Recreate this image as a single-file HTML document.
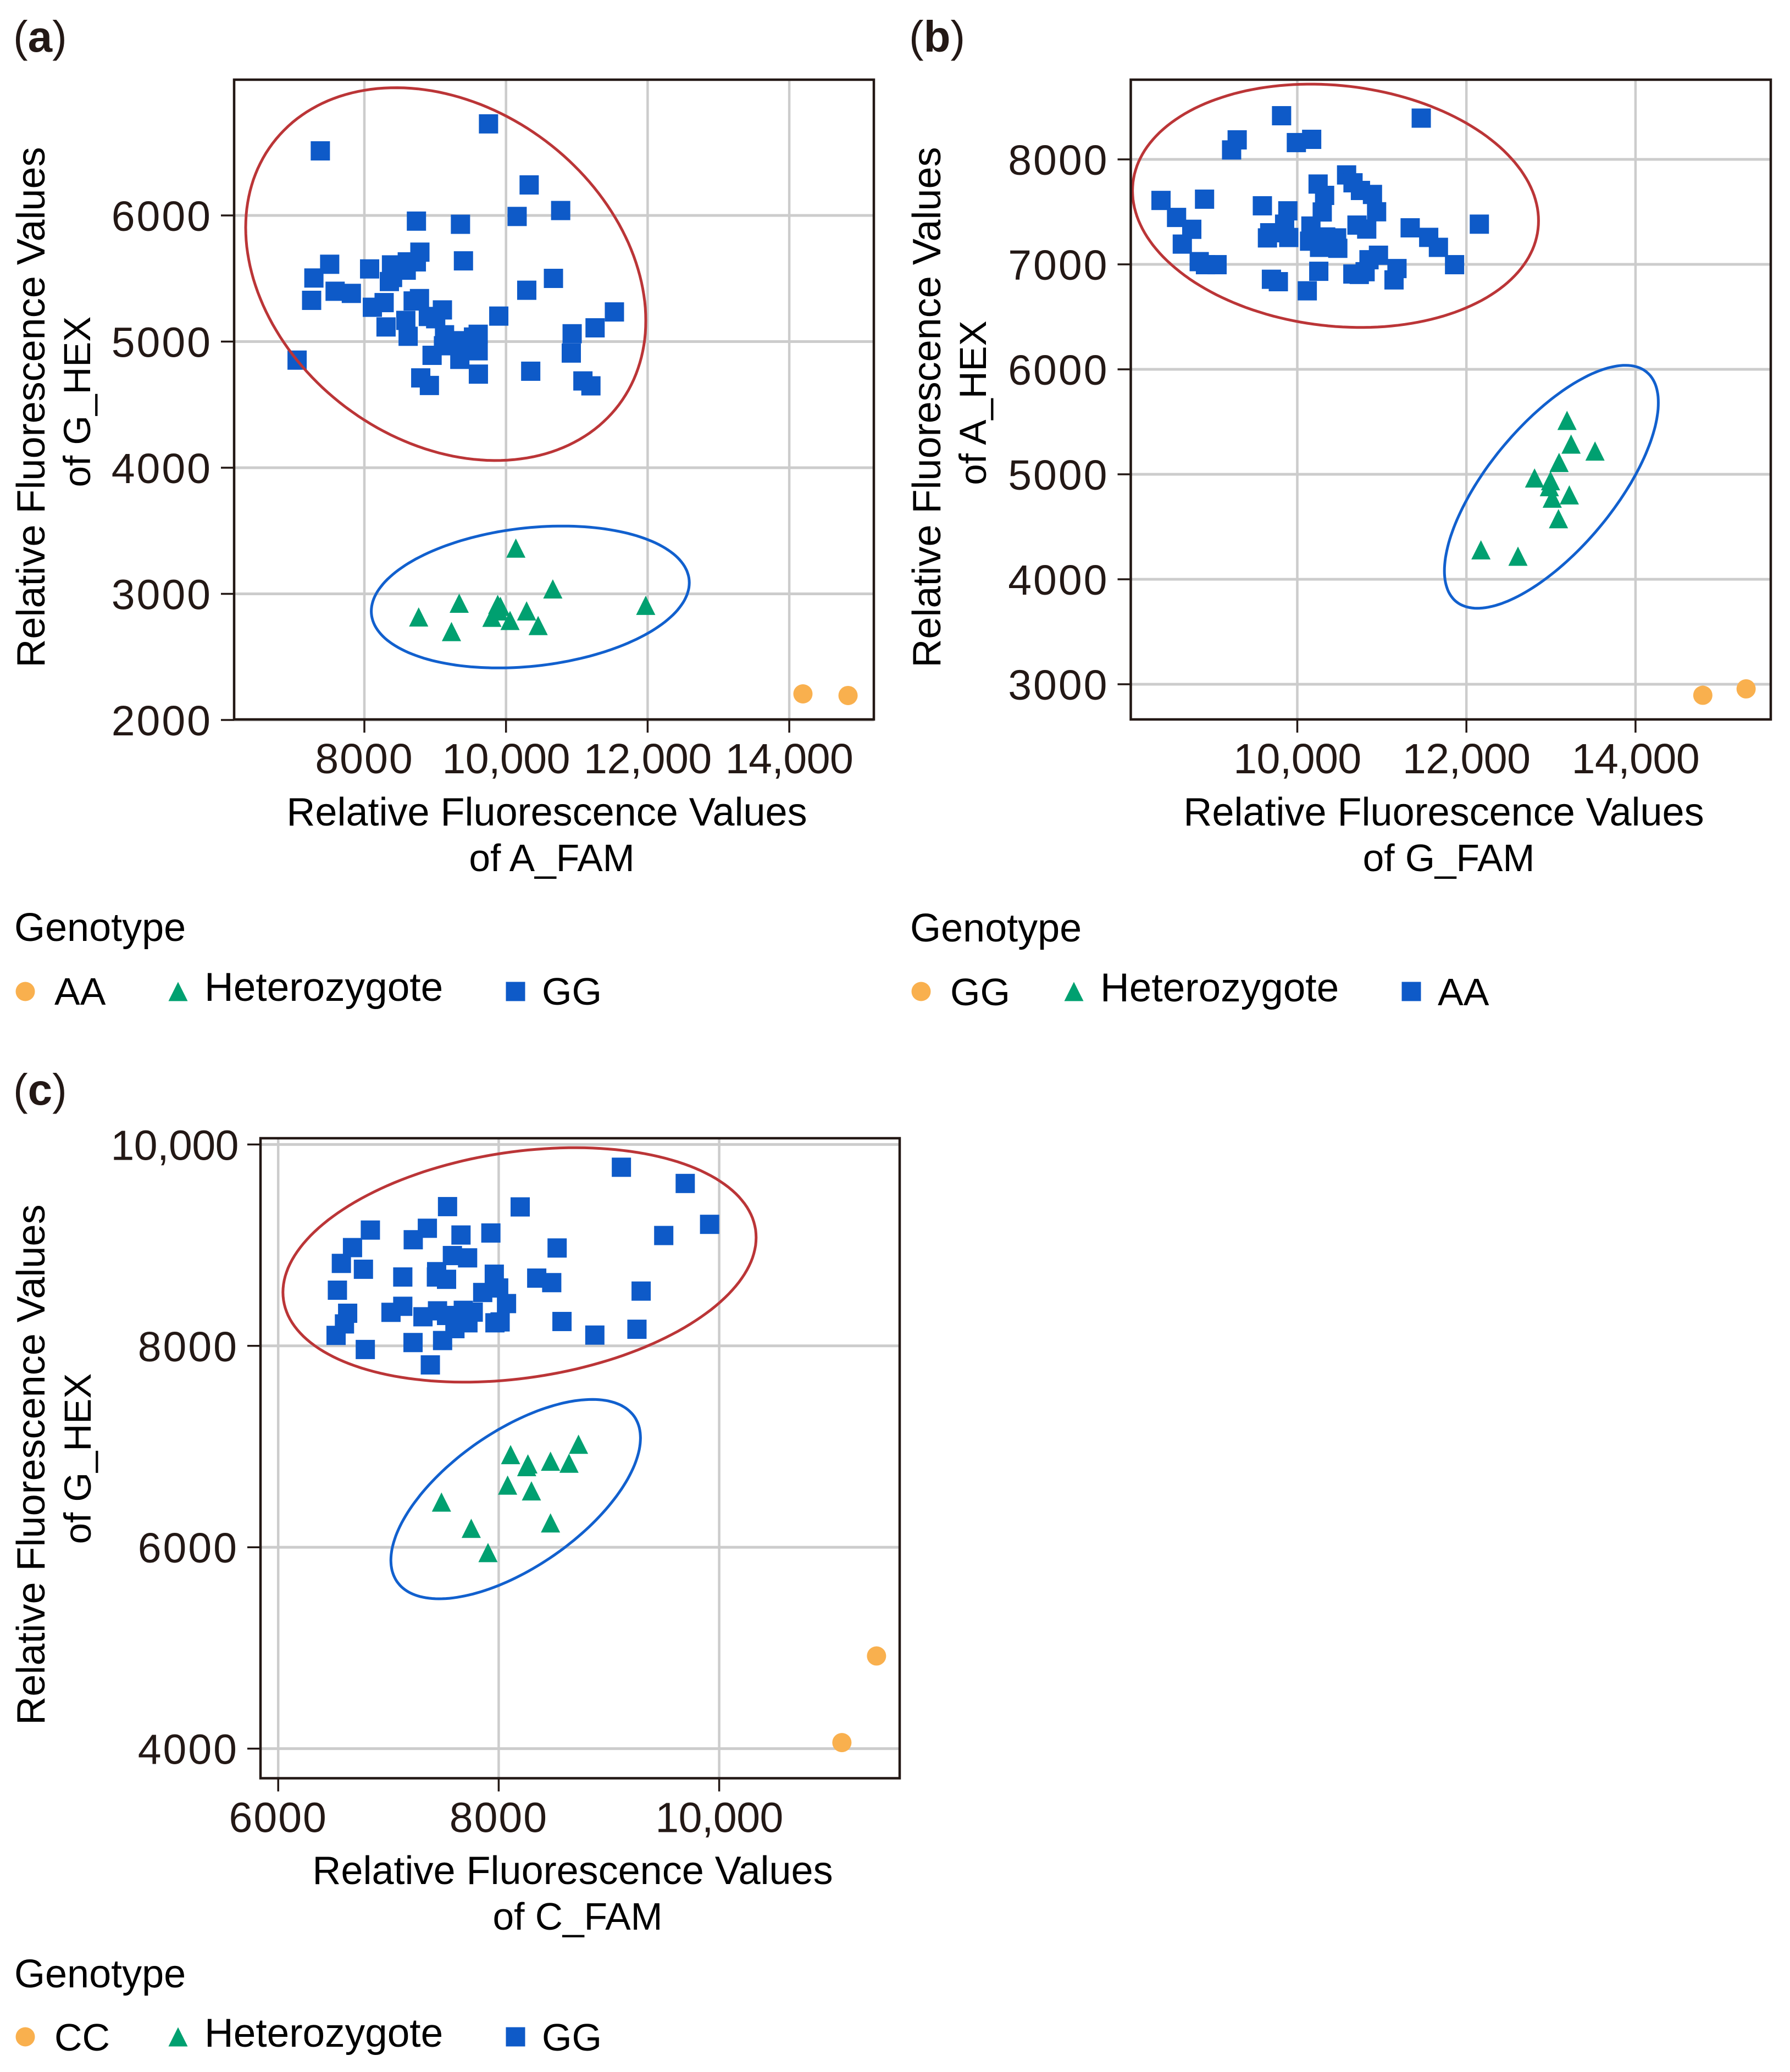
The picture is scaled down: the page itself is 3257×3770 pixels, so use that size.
<!DOCTYPE html>
<html lang="en">
<head>
<meta charset="utf-8">
<title>Genotype clustering scatter plots</title>
<style>
html,body{margin:0;padding:0;background:#fff;}
svg{display:block;}
text{font-family:"Liberation Sans",sans-serif;}
</style>
</head>
<body>
<svg id="figure" xmlns="http://www.w3.org/2000/svg" width="3257" height="3770" viewBox="0 0 3257 3770"></svg>
<script>
// ---- Panel (a) data ----
const aXTicks = [8000, 10000, 12000, 14000];
const aYTicks = [2000, 3000, 4000, 5000, 6000];
const aCircleX = [14193, 14830];
const aCircleY = [2207, 2194];
const aTriX = [10139, 10661, 9339, 8767, 9230, 9883, 9921, 9801, 9894, 10057, 10291, 10454, 11973];
const aTriY = [3363, 3039, 2926, 2817, 2701, 2916, 2901, 2814, 2865, 2789, 2865, 2749, 2909];
const aSquareX = [7510, 7287, 7255, 7587, 7816, 8074, 8383, 8606, 8784, 8734, 8591, 8398, 8353, 9399, 8113, 8279, 8689, 8778, 8903, 9007, 9102, 9898, 8585, 8618, 8306, 9132, 9117, 8956, 9348, 9348, 9541, 9607, 9607, 9610, 10349, 8796, 8918, 11086, 11199, 7050, 10293, 10670, 10934, 10922, 11258, 11531, 9753, 7378, 10327, 10772, 10157, 8735, 9357];
const aSquareY = [5613, 5504, 5327, 5399, 5382, 5576, 5608, 5632, 5709, 5632, 5566, 5508, 5476, 5640, 5272, 5309, 5322, 5341, 5199, 5181, 5251, 5202, 5168, 5042, 5116, 5054, 4967, 4891, 5007, 4859, 5036, 5058, 4927, 4742, 4765, 4712, 4652, 4688, 4649, 4853, 5407, 5501, 5062, 4909, 5109, 5235, 6726, 6512, 6242, 6039, 5992, 5955, 5930];
const aRedEllipse = [9149, 5535, 2825, -369, 1431];
const aBlueEllipse = [10343, 2975, 2245, 113, 551];

// ---- Panel (b) data ----
const bXTicks = [10000, 12000, 14000];
const bYTicks = [3000, 4000, 5000, 6000, 7000, 8000];
const bCircleX = [14796, 15308];
const bCircleY = [2895, 2956];
const bTriX = [13190, 13238, 13521, 13096, 12806, 12995, 12981, 13217, 13015, 13089, 12172, 12610];
const bTriY = [5514, 5288, 5222, 5113, 4965, 4939, 4882, 4804, 4773, 4577, 4281, 4220];
const bSquareX = [9814, 11466, 9289, 9223, 9989, 10170, 8388, 8903, 8572, 8752, 8640, 8840, 8914, 9051, 9587, 9888, 9850, 9674, 9647, 9899, 10161, 10246, 10323, 10295, 10583, 10659, 10747, 10889, 10938, 10706, 10821, 11335, 11554, 11669, 11860, 12153, 10145, 10263, 10336, 10465, 10479, 10848, 10960, 11179, 10657, 10733, 10802, 11144, 10254, 10118, 9694, 9776];
const bSquareY = [8416, 8393, 8186, 8090, 8160, 8191, 7609, 7621, 7447, 7334, 7193, 7026, 6997, 6997, 7558, 7510, 7383, 7301, 7252, 7256, 7365, 7765, 7657, 7499, 7852, 7777, 7704, 7666, 7501, 7374, 7336, 7348, 7257, 7162, 6997, 7383, 7221, 7162, 7261, 7252, 7153, 7044, 7087, 6960, 6908, 6904, 6930, 6852, 6934, 6748, 6858, 6835];
const bRedEllipse = [10452, 7558, 2401, -143, 1150];
const bBlueEllipse = [13005, 4881, 1265, 801, 835];

// ---- Panel (c) data ----
const cXTicks = [6000, 8000, 10000];
const cYTicks = [4000, 6000, 8000, 10000];
const cCircleX = [11427, 11113];
const cCircleY = [4920, 4060];
const cTriX = [8724, 8108, 8265, 8254, 8470, 8638, 8081, 8297, 7481, 8470, 7751, 7903];
const cTriY = [7023, 6920, 6828, 6801, 6855, 6835, 6617, 6560, 6449, 6242, 6188, 5947];
const cSquareX = [7536, 8195, 6836, 7353, 7225, 7658, 7929, 6674, 6573, 6773, 8530, 7580, 7718, 7130, 7437, 7435, 7527, 7960, 8000, 7855, 8345, 8481, 6537, 6630, 6601, 6525, 6790, 7130, 7023, 7313, 7445, 7527, 7679, 7769, 7721, 7603, 8071, 7966, 8013, 8574, 8872, 7223, 7491, 7380, 9113, 9692, 9913, 9497, 9292, 9254];
const cSquareY = [9383, 9380, 9150, 9168, 9054, 9101, 9121, 8976, 8819, 8761, 8972, 8897, 8874, 8684, 8737, 8684, 8661, 8712, 8575, 8530, 8673, 8628, 8553, 8324, 8218, 8104, 7964, 8393, 8333, 8289, 8348, 8302, 8353, 8335, 8229, 8171, 8420, 8229, 8238, 8242, 8107, 8033, 8053, 7811, 9774, 9613, 9207, 9096, 8544, 8165];
const cRedEllipse = [8189, 8804, 2146, 272, 1132];
const cBlueEllipse = [8154, 6478, 1132, 607, 782];

// ---- Shared styles ----
const SVGNS = 'http://www.w3.org/2000/svg';
const INK = '#231815';
const GRID = '#cccccc';
const ORANGE = '#f9b04e';
const GREEN = '#00a070';
const BLUE = '#0e5ac8';
const RED_RING = '#bb3537';
const BLUE_RING = '#1160ce';
const MARK = 35;
const root = document.getElementById('figure');

function make(parent, tag, attrs, content) {
  const node = document.createElementNS(SVGNS, tag);
  for (const k in attrs) node.setAttribute(k, attrs[k]);
  if (content !== undefined) node.textContent = content;
  parent.appendChild(node);
  return node;
}
function fmt(v) {
  return v >= 10000 ? String(v).replace(/(\d)(\d{3})$/, '$1,$2') : String(v);
}
function circleMark(parent, cx, cy) {
  return make(parent, 'circle', {cx: cx, cy: cy, r: MARK / 2, fill: ORANGE});
}
function triMark(parent, cx, cy) {
  const h = MARK / 2;
  return make(parent, 'polygon', {points: (cx) + ',' + (cy - h) + ' ' + (cx + h) + ',' + (cy + h) + ' ' + (cx - h) + ',' + (cy + h), fill: GREEN});
}
function squareMark(parent, cx, cy) {
  return make(parent, 'rect', {x: cx - MARK / 2, y: cy - MARK / 2, width: MARK, height: MARK, fill: BLUE});
}

function drawPanel(p) {
  const g = make(root, 'g', {});
  
  

  const xScale = function (v) { return p.xRefPx + (v - p.xRefVal) * p.xPerUnit; };
  const yScale = function (v) { return p.yRefPx - (v - p.yRefVal) * p.yPerUnit; };

  // panel tag
  const tag = make(g, 'text', {x: p.tagX, y: p.tagY, 'font-size': 80, fill: INK});
  
  
  make(tag, 'tspan', {}, '(');
  make(tag, 'tspan', {'font-weight': 'bold'}, p.id);
  make(tag, 'tspan', {}, ')');

  // gridlines
  const gridG = make(g, 'g', {});
  
  
  p.xTicks.forEach(function (v) {
    const line = make(gridG, 'line', {x1: xScale(v), x2: xScale(v), y1: p.top, y2: p.bottom, stroke: GRID, 'stroke-width': 4.5});
    
    
  });
  p.yTicks.forEach(function (v) {
    const line = make(gridG, 'line', {x1: p.left, x2: p.right, y1: yScale(v), y2: yScale(v), stroke: GRID, 'stroke-width': 5});
    
    
  });

  // points
  const homG = make(g, 'g', {});
  
  
  p.circleX.forEach(function (v, i) {
    const m = circleMark(homG, xScale(v), yScale(p.circleY[i]));
    
    
  });
  const hetG = make(g, 'g', {});
  
  
  p.triX.forEach(function (v, i) {
    const m = triMark(hetG, xScale(v), yScale(p.triY[i]));
    
    
  });
  const sqG = make(g, 'g', {});
  
  
  p.squareX.forEach(function (v, i) {
    const m = squareMark(sqG, xScale(v), yScale(p.squareY[i]));
    
    
  });

  // cluster ellipses: [centreX, centreY, rightmostOffsetX, rightmostOffsetY, verticalConjugate]
  function ring(params, color, name) {
    let d = '';
    for (let i = 0; i <= 180; i++) {
      const t = i / 180 * Math.PI * 2;
      const vx = params[0] + params[2] * Math.cos(t);
      const vy = params[1] + params[3] * Math.cos(t) + params[4] * Math.sin(t);
      d += (i ? 'L' : 'M') + xScale(vx).toFixed(1) + ' ' + yScale(vy).toFixed(1);
    }
    const path = make(g, 'path', {d: d + 'Z', fill: 'none', stroke: color, 'stroke-width': 5});
    
    
  }
  ring(p.redEllipse, RED_RING, 'homozygote-cluster-ellipse');
  ring(p.blueEllipse, BLUE_RING, 'heterozygote-cluster-ellipse');

  // frame
  const frame = make(g, 'rect', {x: p.left, y: p.top, width: p.right - p.left, height: p.bottom - p.top, fill: 'none', stroke: INK, 'stroke-width': 4.5});
  
  

  // ticks: four-digit labels run slightly wider in the reference
  p.xTicks.forEach(function (v) {
    const t = make(g, 'line', {x1: xScale(v), x2: xScale(v), y1: p.bottom, y2: p.bottom + 24, stroke: INK, 'stroke-width': 3.5});
    
    
    const l = make(g, 'text', {x: xScale(v), y: p.bottom + 98, 'font-size': 77, 'text-anchor': 'middle', 'letter-spacing': v < 10000 ? 2 : -0.5, fill: INK}, fmt(v));
    
    
  });
  p.yTicks.forEach(function (v) {
    const t = make(g, 'line', {x1: p.left - 24, x2: p.left, y1: yScale(v), y2: yScale(v), stroke: INK, 'stroke-width': 3.5});
    
    
    const l = make(g, 'text', {x: p.left - 40, y: yScale(v) + 28, 'font-size': 77, 'text-anchor': 'end', 'letter-spacing': v < 10000 ? 3 : -0.5, fill: INK}, fmt(v));
    
    
  });

  // axis titles
  const xt1 = make(g, 'text', {x: p.xTitleX, y: p.xTitleY1, 'font-size': 72, 'text-anchor': 'middle', fill: '#000'}, 'Relative Fluorescence Values');
  
  
  const xt2 = make(g, 'text', {x: p.xTitleX + 9, y: p.xTitleY2, 'font-size': 69.5, 'text-anchor': 'middle', fill: '#000'}, p.xVar);
  
  
  const yt1 = make(g, 'text', {x: 0, y: 0, 'font-size': 72, 'text-anchor': 'middle', fill: '#000', transform: 'translate(' + p.yTitleX1 + ' ' + p.yTitleC1 + ') rotate(-90)'}, 'Relative Fluorescence Values');
  
  
  const yt2 = make(g, 'text', {x: 0, y: 0, 'font-size': 69, 'text-anchor': 'middle', fill: '#000', transform: 'translate(' + p.yTitleX2 + ' ' + p.yTitleC2 + ') rotate(-90)'}, p.yVar);
  
  

  // legend
  const lg = make(g, 'g', {});
  
  
  const lt = make(lg, 'text', {x: p.ox + 26, y: p.legTitleY, 'font-size': 72, fill: '#000'}, 'Genotype');
  
  
  const m1 = circleMark(lg, p.ox + 46, p.legMarkY);
  
  
  const t1 = make(lg, 'text', {x: p.ox + 99, y: p.legRowY, 'font-size': 70, fill: '#000'}, p.legend[0]);
  
  
  const m2 = triMark(lg, p.ox + 324, p.legMarkY);
  
  
  const t2 = make(lg, 'text', {x: p.ox + 372, y: p.legRowY - 7, 'font-size': 73, fill: '#000'}, p.legend[1]);
  
  
  const m3 = squareMark(lg, p.ox + 938, p.legMarkY);
  
  
  const t3 = make(lg, 'text', {x: p.ox + 986, y: p.legRowY, 'font-size': 70, fill: '#000'}, p.legend[2]);
  
  
}

drawPanel({
  id: 'a', ox: 0, tagX: 24, tagY: 94,
  left: 426, right: 1590, top: 145, bottom: 1309,
  xRefVal: 8000, xRefPx: 663, xPerUnit: 257.7 / 2000,
  yRefVal: 6000, yRefPx: 392, yPerUnit: 229.5 / 1000,
  xTicks: aXTicks, yTicks: aYTicks,
  circleX: aCircleX, circleY: aCircleY, triX: aTriX, triY: aTriY, squareX: aSquareX, squareY: aSquareY,
  redEllipse: aRedEllipse, blueEllipse: aBlueEllipse,
  xTitleX: 995, xTitleY1: 1502, xTitleY2: 1585, xVar: 'of A_FAM',
  yTitleX1: 81, yTitleC1: 741, yTitleX2: 164, yTitleC2: 731, yVar: 'of G_HEX',
  legTitleY: 1712, legMarkY: 1804, legRowY: 1828, legend: ['AA', 'Heterozygote', 'GG']
});
drawPanel({
  id: 'b', ox: 1630, tagX: 1654, tagY: 94,
  left: 2057.5, right: 3222, top: 145, bottom: 1309,
  xRefVal: 10000, xRefPx: 2360.5, xPerUnit: 307.7 / 2000,
  yRefVal: 8000, yRefPx: 290, yPerUnit: 191 / 1000,
  xTicks: bXTicks, yTicks: bYTicks,
  circleX: bCircleX, circleY: bCircleY, triX: bTriX, triY: bTriY, squareX: bSquareX, squareY: bSquareY,
  redEllipse: bRedEllipse, blueEllipse: bBlueEllipse,
  xTitleX: 2627, xTitleY1: 1502, xTitleY2: 1585, xVar: 'of G_FAM',
  yTitleX1: 1711, yTitleC1: 741, yTitleX2: 1794, yTitleC2: 733, yVar: 'of A_HEX',
  legTitleY: 1713, legMarkY: 1804, legRowY: 1829, legend: ['GG', 'Heterozygote', 'AA']
});
drawPanel({
  id: 'c', ox: 0, tagX: 24, tagY: 2010,
  left: 474, right: 1637, top: 2071, bottom: 3235.5,
  xRefVal: 8000, xRefPx: 907.4, xPerUnit: 401.2 / 2000,
  yRefVal: 8000, yRefPx: 2448.8, yPerUnit: 366.4 / 2000,
  xTicks: cXTicks, yTicks: cYTicks,
  circleX: cCircleX, circleY: cCircleY, triX: cTriX, triY: cTriY, squareX: cSquareX, squareY: cSquareY,
  redEllipse: cRedEllipse, blueEllipse: cBlueEllipse,
  xTitleX: 1042, xTitleY1: 3428, xTitleY2: 3511, xVar: 'of C_FAM',
  yTitleX1: 81, yTitleC1: 2665, yTitleX2: 165, yTitleC2: 2654, yVar: 'of G_HEX',
  legTitleY: 3616, legMarkY: 3706, legRowY: 3731, legend: ['CC', 'Heterozygote', 'GG']
});
</script>
</body>
</html>
